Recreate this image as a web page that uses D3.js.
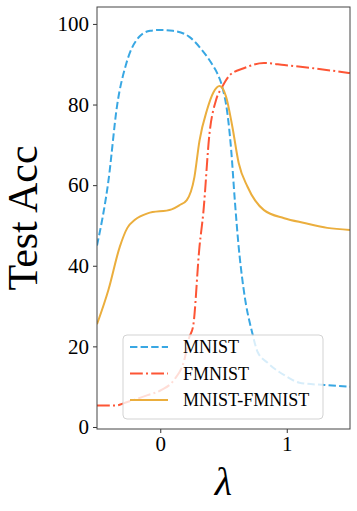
<!DOCTYPE html>
<html>
<head>
<meta charset="utf-8">
<script src="https://cdn.jsdelivr.net/npm/d3@7"></script>
<style>
  body { margin: 0; background: #fff; }
  svg { display: block; }
  text { font-family: "Liberation Serif", "Times New Roman", serif; fill: #000; }
</style>
</head>
<body>
<div id="chart"></div>
<script>
// Test accuracy vs lambda

// data
const mnistX = [-0.5, -0.41, -0.34, -0.27, -0.16, -0.08, 0, 0.1, 0.23, 0.33, 0.41, 0.45, 0.49, 0.53, 0.56, 0.59, 0.62, 0.66, 0.73, 0.77, 0.85, 1.0, 1.1, 1.3, 1.5]
const mnistY = [45, 61, 80, 90, 97, 98.3, 98.5, 98.3, 96.8, 93.5, 90, 87.8, 84.4, 78, 69, 56, 44.7, 34, 23, 18.6, 15.9, 12.5, 11, 10.4, 10]

const fmnistX = [-0.5, -0.36, -0.26, -0.1, 0.01, 0.11, 0.19, 0.23, 0.26, 0.31, 0.34, 0.39, 0.44, 0.49, 0.55, 0.66, 0.82, 0.98, 1.21, 1.5]
const fmnistY = [5.3, 5.3, 6.2, 7.9, 9.2, 11.7, 16.6, 22.3, 25, 44.7, 53, 73, 81, 84.4, 87.3, 89, 90.3, 89.8, 89, 87.8]

const mixX = [-0.5, -0.41, -0.32, -0.26, -0.2, -0.1, 0.09, 0.15, 0.21, 0.27, 0.31, 0.37, 0.42, 0.47, 0.52, 0.57, 0.62, 0.69, 0.82, 0.98, 1.14, 1.32, 1.5]
const mixY = [25.5, 34, 44.7, 49.4, 51.4, 53, 54, 55, 56.3, 62, 71, 78.7, 83, 84.6, 82, 74.5, 65.5, 59.6, 53.8, 51.8, 50.6, 49.4, 48.9]

const seriesNames = ['MNIST', 'FMNIST', 'MNIST-FMNIST']
const xTicks = [0, 1]
const yTicks = [0, 20, 40, 60, 80, 100]

// size and margins
var width = 357
var height = 511
var margin = { top: 7, right: 7, bottom: 82, left: 97 }
var innerW = width - margin.left - margin.right
var innerH = height - margin.top - margin.bottom

const xScale = d3.scaleLinear()
  .domain([-0.5, 1.5])
  .range([0, innerW])

const yScale = d3.scaleLinear()
  .domain([-0.5, 104.2])
  .range([innerH, 0])

var svg = d3.select('#chart')
  .append('svg')
  .attr('width', width)
  .attr('height', height)

var g = svg.append('g')
  .attr('transform', `translate(${margin.left}, ${margin.top})`)

g.append('defs').append('clipPath')
  .attr('id', 'clip')
  .append('rect')
  .attr('width', innerW)
  .attr('height', innerH)

const series = [
  { name: seriesNames[0], xs: mnistX, ys: mnistY, color: '#38a7e3', dash: '7.4,3.2' },
  { name: seriesNames[1], xs: fmnistX, ys: fmnistY, color: '#fd5535', dash: '12.8,3.2,2,3.2' },
  { name: seriesNames[2], xs: mixX, ys: mixY, color: '#ebae3d', dash: null }
]

const line = d3.line()
  .x((d) => xScale(d[0]))
  .y((d) => yScale(d[1]))
  .curve(d3.curveMonotoneX)

g.append('g')
  .attr('clip-path', 'url(#clip)')
  .selectAll('path')
  .data(series)
  .enter()
  .append('path')
  .attr('d', (s) => line(s.xs.map((x, i) => [x, s.ys[i]])))
  .attr('fill', 'none')
  .attr('stroke', (s) => s.color)
  .attr('stroke-width', 2)
  .attr('stroke-dasharray', (s) => s.dash)

// axes
const xAxis = d3.axisBottom(xScale).tickValues(xTicks).tickFormat(d3.format('d')).tickSize(4).tickPadding(3)
const yAxis = d3.axisLeft(yScale).tickValues(yTicks).tickSize(4).tickPadding(4)

g.append('g')
  .attr('transform', `translate(0, ${innerH})`)
  .call(xAxis)
  .call((a) => a.select('.domain').remove())
  .call((a) => a.selectAll('text').attr('font-size', 21).attr('font-family', null))

g.append('g')
  .call(yAxis)
  .call((a) => a.select('.domain').remove())
  .call((a) => a.selectAll('text').attr('font-size', 21).attr('font-family', null))

g.selectAll('.tick line').attr('stroke', '#333').attr('stroke-width', 1)

// frame
g.append('rect')
  .attr('width', innerW)
  .attr('height', innerH)
  .attr('fill', 'none')
  .attr('stroke', '#444')
  .attr('stroke-width', 1)

// legend
var legend = g.append('g').attr('transform', 'translate(26, 328)')
legend.append('rect')
  .attr('width', 200)
  .attr('height', 84)
  .attr('rx', 4)
  .attr('fill', 'white')
  .attr('fill-opacity', 0.8)
  .attr('stroke', '#d3d3d3')

series.forEach((s, i) => {
  var row = legend.append('g').attr('transform', `translate(0, ${12 + i * 26.5})`)
  row.append('line')
    .attr('x1', 7).attr('x2', 45)
    .attr('stroke', s.color)
    .attr('stroke-width', 2)
    .attr('stroke-dasharray', s.dash)
  row.append('text')
    .attr('x', 60)
    .attr('y', 6)
    .attr('font-size', 18)
    .text(s.name)
})

// axis titles
svg.append('text')
  .attr('transform', `translate(37, ${margin.top + innerH / 2}) rotate(-90)`)
  .attr('text-anchor', 'middle')
  .attr('font-size', 42)
  .text('Test Acc')

svg.append('text')
  .attr('x', margin.left + innerW / 2)
  .attr('y', 495)
  .attr('text-anchor', 'middle')
  .attr('font-size', 40)
  .attr('font-style', 'italic')
  .text('λ')
</script>
</body>
</html>
